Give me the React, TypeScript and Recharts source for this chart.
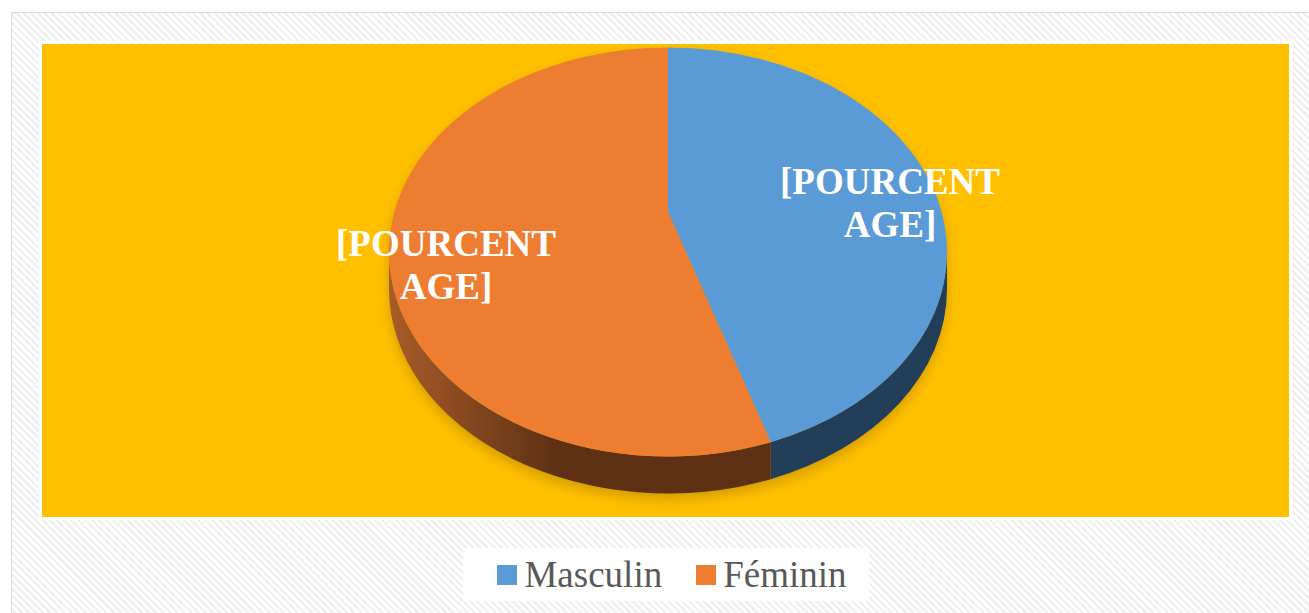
import React from 'react';
import { PieChart, Pie, Cell, Legend } from 'recharts';

// chart data
const categories = ['Masculin', 'Féminin'];
const shares = [44, 56];
const labelLines = ['[POURCENT', 'AGE]'];
const faceColors = ['#5B9BD5', '#ED7D31'];
const sideLight = ['#243F5B', '#A85C29'];
const sideDark = ['#233E59', '#5E3114'];

const data = categories.map((name, i) => ({ name, value: shares[i] }));

const W = 1309;
const H = 613;
const SQUASH = 0.733; // vertical flattening of the pie top
const DEPTH = 37; // thickness of the 3D side
const APEX_LIFT = 40; // perspective: centre point sits above the ellipse centre
const START = 90;

const rad = (a: number) => (a * Math.PI) / 180;

const pt = (cx: number, cy: number, rx: number, ry: number, a: number, dy = 0) =>
  `${cx + rx * Math.cos(rad(a))},${cy - ry * Math.sin(rad(a)) + dy}`;

// parts of a clockwise sweep [s -> e] that face the viewer (lower half)
function frontRanges(s: number, e: number) {
  const out: Array<[number, number]> = [];
  for (let k = -720; k <= 360; k += 360) {
    const hi = Math.min(s, k);
    const lo = Math.max(e, k - 180);
    if (hi - lo > 0.01) out.push([hi, lo]);
  }
  return out;
}

function Slice3D(props: any) {
  const { cx, cy, outerRadius, startAngle, endAngle, fill } = props;
  const idx = Math.max(0, faceColors.indexOf(fill));
  const rx = outerRadius;
  const ry = outerRadius * SQUASH;
  const s = Math.max(startAngle, endAngle);
  const e = Math.min(startAngle, endAngle);
  const large = s - e > 180 ? 1 : 0;
  const gid = `side-grad-${idx}`;

  const face = `M${cx},${cy - APEX_LIFT} L${pt(cx, cy, rx, ry, s)} A${rx},${ry} 0 ${large} 1 ${pt(cx, cy, rx, ry, e)} Z`;

  const walls = frontRanges(s, e).map(([hi, lo]) =>
    `M${pt(cx, cy, rx, ry, hi)} A${rx},${ry} 0 0 1 ${pt(cx, cy, rx, ry, lo)} ` +
    `L${pt(cx, cy, rx, ry, lo, DEPTH)} A${rx},${ry} 0 0 0 ${pt(cx, cy, rx, ry, hi, DEPTH)} Z`
  );

  const body =
    `M${cx - rx},${cy} A${rx},${ry} 0 0 1 ${cx + rx},${cy} L${cx + rx},${cy + DEPTH} ` +
    `A${rx},${ry} 0 0 1 ${cx - rx},${cy + DEPTH} Z`;

  return (
    <g>
      <defs>
        <linearGradient id={gid} gradientUnits="userSpaceOnUse" x1={cx - rx} y1={0} x2={cx + rx * 0.2} y2={0}>
          <stop offset="0" stopColor={sideLight[idx]} />
          <stop offset="0.5" stopColor={sideDark[idx]} />
          <stop offset="1" stopColor={sideDark[idx]} />
        </linearGradient>
        <filter id="pie-shadow" x="-20%" y="-20%" width="140%" height="150%">
          <feGaussianBlur stdDeviation="6" />
        </filter>
      </defs>
      {s === START && (
        <path d={body} transform="translate(0,6)" fill="#a07500" opacity={0.45} filter="url(#pie-shadow)" />
      )}
      {walls.map((d, i) => (
        <path key={i} d={d} fill={`url(#${gid})`} />
      ))}
      <path d={face} fill={fill} />
    </g>
  );
}

function renderLabel(props: any) {
  const { cx, cy, midAngle, outerRadius } = props;
  const x = cx + 0.81 * outerRadius * Math.cos(rad(midAngle));
  const y = cy - 0.81 * outerRadius * SQUASH * Math.sin(rad(midAngle)) - 20;
  return (
    <text
      x={x}
      y={y}
      textAnchor="middle"
      fill="#FFFFFF"
      fontFamily="'Liberation Serif', serif"
      fontWeight="bold"
      fontSize={37}
    >
      <tspan x={x} y={y - 7}>{labelLines[0]}</tspan>
      <tspan x={x} y={y + 36}>{labelLines[1]}</tspan>
    </text>
  );
}

function LegendBox({ payload }: any) {
  const items = [...(payload || [])].sort(
    (a: any, b: any) => categories.indexOf(a.value) - categories.indexOf(b.value)
  );
  return (
    <div
      style={{
        display: 'flex',
        alignItems: 'center',
        justifyContent: 'center',
        height: '100%',
        paddingLeft: 12,
        boxSizing: 'border-box',
        background: 'rgba(255,255,255,0.85)',
      }}
    >
      {items.map((entry: any, i: number) => (
        <div key={i} style={{ display: 'flex', alignItems: 'center', marginLeft: i ? 34 : 0 }}>
          <span style={{ width: 20, height: 20, background: entry.color, marginRight: 7, display: 'inline-block' }} />
          <span style={{ fontFamily: "'Liberation Serif', serif", fontSize: 37, color: '#595959', lineHeight: 1 }}>
            {entry.value}
          </span>
        </div>
      ))}
    </div>
  );
}

export default function App() {
  return (
    <div style={{ position: 'relative', width: W, height: H, background: '#fff', overflow: 'hidden' }}>
      <style>{'body{margin:0}'}</style>
      <div
        style={{
          position: 'absolute',
          left: 11,
          top: 12,
          right: -2,
          bottom: -2,
          borderTop: '1px solid #d9d9d9',
          borderLeft: '1px solid #d9d9d9',
          background: 'repeating-linear-gradient(45deg, #ffffff 0px, #ffffff 2.5px, #f0f0f0 2.5px, #f0f0f0 5px)',
        }}
      />
      <div
        style={{
          position: 'absolute',
          left: 42,
          top: 44,
          width: 1247,
          height: 473,
          background: '#FFC000',
          boxShadow: '0 0 0 3px #ffffff',
        }}
      />
      <div style={{ position: 'absolute', left: 0, top: 0 }}>
        <PieChart width={W} height={H} margin={{ top: 0, right: 0, bottom: 0, left: 0 }}>
          <Pie
            data={data}
            dataKey="value"
            nameKey="name"
            cx={668}
            cy={252}
            outerRadius={279}
            startAngle={START}
            endAngle={START - 360}
            stroke="none"
            shape={Slice3D}
            activeShape={Slice3D}
            inactiveShape={Slice3D}
            label={renderLabel}
            labelLine={false}
            isAnimationActive={false}
          >
            {data.map((d, i) => (
              <Cell key={d.name} fill={faceColors[i]} />
            ))}
          </Pie>
          <Legend
            content={LegendBox}
            wrapperStyle={{ left: 463, top: 548, bottom: 'auto', width: 406, height: 53 }}
          />
        </PieChart>
      </div>
    </div>
  );
}
